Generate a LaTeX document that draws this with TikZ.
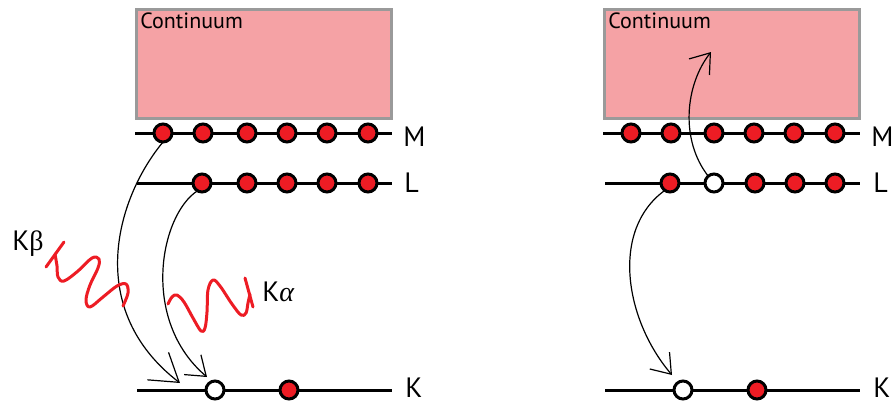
\documentclass[tikz,border=0pt]{standalone}
\usepackage{fontspec}
\setmainfont{PT Sans}
\newfontfamily\greekfont{Liberation Serif}
\usetikzlibrary{arrows.meta}
\definecolor{elecred}{HTML}{ED1C24}
\definecolor{contfill}{HTML}{F5A2A5}
\definecolor{contedge}{HTML}{9A9A9A}
\begin{document}
\begin{tikzpicture}[x=0.75pt,y=-0.75pt,
  level/.style={line width=2.25pt},
  elec/.style={circle, draw=black, line width=2.25pt, fill=elecred,
    minimum size=13.5pt, inner sep=0pt, outer sep=0pt},
  hole/.style={elec, fill=white},
  cont/.style={rectangle, draw=contedge, line width=2.25pt, fill=contfill,
    minimum width=191.25pt, minimum height=81.75pt, anchor=north west,
    inner sep=0pt, outer sep=0pt},
  conttext/.style={anchor=base west, inner sep=0pt, font=\fontsize{16.5}{16.5}\selectfont},
  shell/.style={anchor=west, inner sep=0pt, font=\fontsize{21}{21}\selectfont},
  linelabel/.style={anchor=base west, inner sep=0pt, font=\fontsize{21}{21}\selectfont},
  trans/.style={line width=0.9pt, -{Straight Barb[length=13.5pt, width=19.5pt]}},
  photon/.style={draw=elecred, line width=2.25pt, line cap=round, line join=round},
]
\useasboundingbox (0,0) rectangle (892,405);

% ---------- left panel: emission ----------
\node[cont] (contL) at (136.5,9.5) {};
\node[conttext] (contLt) at (140,28.5) {Continuum};

\draw[level] (135,133) -- (392,133);
\draw[level] (137,183) -- (392,183);
\draw[level] (137,390) -- (392,390);

\foreach \x [count=\i] in {163,203,247,287,327,368}
  \node[elec] (m\i) at (\x,133) {};
\foreach \x [count=\i] in {202,247,287,327,368}
  \node[elec] (l\i) at (\x,183) {};
\node[hole] (k1) at (215,390) {};
\node[elec] (k2) at (289,390) {};

\node[shell] (lblM) at (403,137) {M};
\node[shell] (lblL) at (404,183) {L};
\node[shell] (lblK) at (405,387.5) {K};

\coordinate (tipB) at (180,383);
\coordinate (tipA) at (207,377);
\draw[trans, -{Straight Barb[length=20pt, width=26pt]}]
  (m1.south) .. controls (115,200) and (85,310) .. (tipB);
\draw[trans] (l1.240) .. controls (160,215) and (140,320) .. (tipA);

% K-beta photon
\draw[photon] plot[smooth, tension=0.6] coordinates {(55,254) (57,266) (58,277) (64,281)
  (78,271) (92,258) (99,259) (98,268) (90,285) (86,300) (90,307) (103,297)
  (117,286) (126,284) (128,293) (123,306)};
\draw[photon] (64,242) -- (46,267);
\node[linelabel] (kbeta) at (12,250) {K{\greekfont β}};

% K-alpha photon
\draw[photon] plot[smooth, tension=0.6] coordinates {(168,304) (172,297) (177,295)
  (184,302) (193,318) (201,331) (205,328) (207,312) (208,290) (213,280)
  (220,286) (232,304) (241,315) (246,313) (248,303) (250,294)};
\draw[photon] (245,278) -- (253,307);
\node[linelabel] (kalpha) at (262,301) {K{\greekfont\itshape α}};

% ---------- right panel: ionisation ----------
\node[cont] (contR) at (604.5,9.5) {};
\node[conttext] (contRt) at (608,28.5) {Continuum};

\draw[level] (603,133) -- (860,133);
\draw[level] (605,183) -- (860,183);
\draw[level] (605,390) -- (860,390);

\foreach \x [count=\i] in {631,671,714,754,794,835}
  \node[elec] (rm\i) at (\x,133) {};
\node[elec] (rl1) at (670,183) {};
\node[hole] (rl2) at (714,183) {};
\foreach \x [count=\i from 3] in {755,795,835}
  \node[elec] (rl\i) at (\x,183) {};
\node[hole] (rk1) at (683,390) {};
\node[elec] (rk2) at (757,390) {};

\node[shell] (rlblM) at (871,137) {M};
\node[shell] (rlblL) at (873,183) {L};
\node[shell] (rlblK) at (873,387.5) {K};

\coordinate (rtipUp) at (711,52);
\coordinate (rtipDown) at (672,375);
\draw[trans] (rl2.130) .. controls (680,140) and (685,85) .. (rtipUp);
\draw[trans] (rl1.235) .. controls (610,230) and (625,320) .. (rtipDown);
\end{tikzpicture}
\end{document}
